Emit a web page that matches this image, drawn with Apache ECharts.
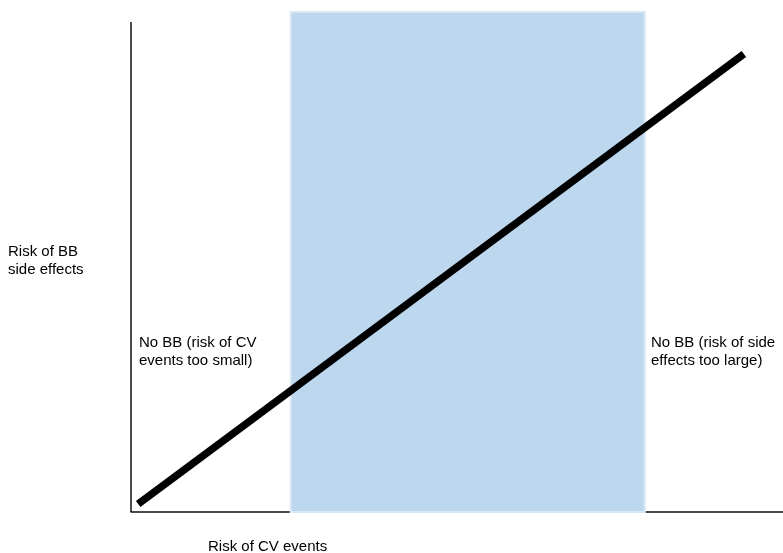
<!DOCTYPE html>
<html><head><meta charset="utf-8">
<script src="https://cdn.jsdelivr.net/npm/echarts@6/dist/echarts.min.js"></script>
<style>html,body{margin:0;padding:0;background:#fff}#c{width:783px;height:553px}</style>
</head><body><div id="c"></div>
<script>
// data (axis units 0..100)
const thresholdLine = [[1.1, 1.6], [94.0, 91.6]];
const bbZone = [24.5, 78.8];
const yAxisTop = 98;
const xAxisTitle = 'Risk of CV events';
const yAxisTitle = 'Risk of BB\nside effects';
const regionLabels = ['No BB (risk of CV\nevents too small)', 'BB', 'No BB (risk of side\neffects too large)'];

const font = '"Liberation Sans", Arial, Helvetica, sans-serif';
const chart = echarts.init(document.getElementById('c'));
const txt = (x, y, text, align) => ({
  type: 'text', x: x, y: y,
  style: { text: text, font: '15px ' + font, fill: '#000', textAlign: align || 'left', textVerticalAlign: 'middle', lineHeight: 18 }
});
chart.setOption({
  animation: false,
  grid: { left: 131, right: 0, top: 12, bottom: 41 },
  xAxis: { type: 'value', min: 0, max: 100, axisLine: { show: true, lineStyle: { color: '#111', width: 1.5 } },
    axisTick: { show: false }, axisLabel: { show: false }, splitLine: { show: false } },
  yAxis: { type: 'value', min: 0, max: 100, axisLine: { show: false },
    axisTick: { show: false }, axisLabel: { show: false }, splitLine: { show: false } },
  series: [
    { type: 'line', data: [[0, 0], [0, yAxisTop]], symbol: 'none', lineStyle: { color: '#111', width: 1.5 }, z: 1,
      markArea: { silent: true, itemStyle: { color: '#bdd7ee', borderColor: '#dae8f5', borderWidth: 2 },
        data: [[{ xAxis: bbZone[0], yAxis: 0 }, { xAxis: bbZone[1], yAxis: 100 }]] } },
    { type: 'line', data: thresholdLine, symbol: 'none', lineStyle: { color: '#000', width: 7.5, cap: 'butt' }, z: 5 }
  ],
  graphic: [
    txt(8, 261, yAxisTitle),
    txt(139, 352, regionLabels[0]),
    txt(460, 343, regionLabels[1], 'center'),
    txt(651, 352, regionLabels[2]),
    txt(208, 547, xAxisTitle)
  ]
});
</script></body></html>
